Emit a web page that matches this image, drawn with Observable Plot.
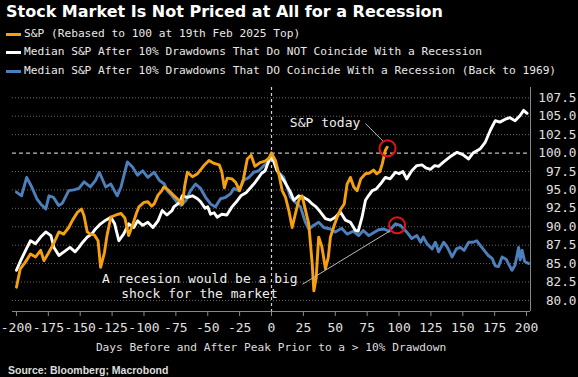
<!DOCTYPE html>
<html>
<head>
<meta charset="utf-8">
<script src="https://cdn.jsdelivr.net/npm/d3@7"></script>
<script src="https://cdn.jsdelivr.net/npm/@observablehq/plot@0.6"></script>
<style>
  html, body { margin: 0; padding: 0; background: #000; }
  #wrap { position: relative; width: 578px; height: 377px; background: #000; overflow: hidden; }
  #title { position: absolute; left: 6px; top: 4px; font: bold 16px "DejaVu Sans"; color: #fff; line-height: 16px; white-space: nowrap; }
  .leg { position: absolute; left: 6px; height: 14px; display: flex; align-items: center; font: 11.2px "DejaVu Sans Mono"; color: #e8e8e8; line-height: 14px; white-space: nowrap; }
  .sw { width: 15px; height: 3px; margin-right: 3px; }
  #xlabel { position: absolute; left: 0; width: 542px; text-align: center; top: 341px; font: 11.2px "DejaVu Sans Mono"; color: #ddd; line-height: 14px; }
  #source { position: absolute; left: 8px; top: 364px; font: bold 10.5px "Liberation Sans"; color: #ddd; line-height: 12px; }
  #chart { position: absolute; left: 0; top: 80px; }
</style>
</head>
<body>
<div id="wrap">
  <div id="title"></div>
  <div id="legend"></div>
  <div id="chart"></div>
  <div id="xlabel"></div>
  <div id="source"></div>
</div>
<script>
// ---- Data ----
const titleText = "Stock Market Is Not Priced at All for a Recession";
const seriesNames = [
  "S&P (Rebased to 100 at 19th Feb 2025 Top)",
  "Median S&P After 10% Drawdowns That Do NOT Coincide With a Recession",
  "Median S&P After 10% Drawdowns That DO Coincide With a Recession (Back to 1969)"
];
const seriesColors = ["#f5a00f", "#ffffff", "#4d7fbd"];
const xAxisTitle = "Days Before and After Peak Prior to a > 10% Drawdown";
const sourceText = "Source: Bloomberg; Macrobond";

const xTickValues = [-200, -175, -150, -125, -100, -75, -50, -25, 0, 25, 50, 75, 100, 125, 150, 175, 200];
const yTickValues = [80, 82.5, 85, 87.5, 90, 92.5, 95, 97.5, 100, 102.5, 105, 107.5];

// S&P (rebased)
const spDays = [-200,-197,-193,-189,-185,-181,-178.5,-175,-170.6,-166.7,-163,-159,-156,-152,-149,-147,-144.5,-142,-139,-136,-134,-131,-129,-126,-122,-118,-115,-112,-109,-106,-104,-100,-97,-94,-92,-89,-86,-84.4,-81,-77,-72.6,-70,-68,-66,-62,-58,-53,-49,-45,-41,-39,-37,-34.7,-31,-28,-25,-22,-19,-16,-13,-9,-5,-2,0,3.1,5.7,8.4,11,13.6,16.2,18.8,21.4,24,26.6,29.2,31.9,33.2,35,37,39.5,42.3,44.5,46.2,49,51.5,54,57,59.3,61.9,64.5,67.2,70,73.7,77,80,82.5,85,86.8,89.3,90.7];
const spValues = [81.8,84.3,85.2,86.3,85.9,86.8,85.4,86.4,87.8,89.3,89.0,89.9,90.9,92.0,92.4,91.5,89.3,89.0,88.9,88.1,84.5,86.5,88.8,91.3,91.6,91.8,91.2,88.8,90.2,91.8,92.7,93.3,93.4,92.8,93.1,94.3,94.9,95.4,95.0,94.3,93.6,93.0,95.6,97.4,96.8,97.2,98.3,99.0,98.6,98.4,97.5,95.3,96.6,96.5,96.0,94.9,96.5,99.2,99.7,98.2,98.7,98.9,99.3,100.0,99.0,97.2,94.9,94.0,92.2,89.9,91.8,93.6,94.2,92.3,90.4,85.0,81.3,83.0,88.6,87.3,84.3,85.8,88.6,90.1,91.3,92.3,93.1,95.8,96.7,95.4,94.9,96.5,97.2,97.3,97.7,97.2,97.5,98.5,100.4,100.8];

// Median, no recession
const noRecDays = [-200,-196.7,-192.8,-189,-185,-181,-177,-173,-170.6,-166.7,-162.8,-158,-154,-151,-148,-144.5,-141,-138,-134,-130,-126,-123,-119.7,-116,-112,-108,-105,-101,-97,-93,-89,-85.7,-82,-78,-76.6,-72,-70,-66,-62,-58,-55.6,-52,-50,-47.8,-45,-42.6,-39,-35,-31,-27,-24,-20,-17,-13.9,-10,-8,-5,-2.5,0,4.4,9.6,14.9,17.5,21.4,25,29,31.9,35,38.4,42.3,46.2,50,54,58,61.9,65.8,68,71,73.7,76,79,82,85.4,89.3,93,97.2,100,103,106,110,114,118,121,124.6,128,131,135,140,145.5,150,154.6,158,163.8,167.7,171.6,175.5,179,183.4,187,191,195,197.7,200.4];
const noRecValues = [84.1,85.4,86.8,88.1,87.7,88.6,89.3,88.8,87.2,86.1,86.6,87.2,86.6,87.2,87.9,88.6,89.0,89.7,90.4,90.9,91.3,90.4,88.1,89.0,90.4,89.9,90.8,90.2,90.6,89.9,90.8,92.2,91.6,92.2,92.7,93.3,94.2,94.0,94.2,93.8,93.4,92.5,92.7,91.7,91.9,91.3,91.7,91.6,92.7,93.5,94.2,94.6,95.2,95.8,96.7,97.2,97.6,98.8,99.7,97.6,96.3,94.7,93.6,94.2,94.0,93.6,93.1,92.7,92.0,91.1,90.9,91.3,92.0,90.9,90.6,89.5,89.4,91.3,93.6,94.2,94.9,95.1,95.8,96.7,96.5,97.4,97.2,97.5,96.5,97.6,98.3,98.4,98.0,97.8,98.3,98.2,98.8,99.5,100.1,99.8,99.2,100.0,100.6,101.5,103.1,104.4,104.2,104.6,104.8,104.4,105.1,105.8,105.4];

// Median, recession
const recDays = [-200,-196,-192,-188,-184,-181,-177,-174.5,-171,-167,-164,-159,-155,-151,-147,-142,-138,-135,-130,-126,-121,-118,-113,-109,-105,-101,-97,-92,-88,-84,-81.7,-78,-74,-71,-67,-63.5,-59.6,-55.6,-51.7,-47.8,-44,-40,-36,-32,-29.5,-25.6,-21.7,-17.8,-13.9,-10,-6,-2,0,4.4,9.6,12.3,14.9,18.8,22.7,26.6,29.2,33.2,37,41,46.2,50,55,59.3,64,68.4,72,76.3,80,84,88,92,97.2,101,106,110,114,117,119,122,126,128.5,131,135,138,141.6,145,148,151,154.6,158,161,164,167.7,170,173,175.5,178,180.8,184,186,188.6,191,193.8,195,196.5,198.5,201.6];
const recValues = [94.7,94.2,96.7,95.4,93.8,93.1,92.4,94.2,94.0,92.9,93.2,94.9,95.0,95.2,96.1,95.4,96.3,97.4,95.4,95.8,94.2,95.4,98.8,98.1,97.0,97.6,96.7,97.4,96.3,95.8,94.9,94.2,93.3,92.9,93.6,94.9,95.8,95.2,94.0,93.1,92.7,93.8,94.0,94.5,95.2,94.9,96.3,96.7,97.4,97.6,98.3,98.8,100.0,97.6,96.7,95.4,94.0,93.3,92.7,90.6,89.7,90.2,90.6,89.9,89.7,89.3,89.8,89.0,89.4,88.8,89.5,88.8,89.2,89.6,89.7,89.4,90.4,90.2,89.3,88.4,88.8,87.9,88.6,87.7,87.0,87.9,86.6,87.9,87.2,85.9,87.0,87.2,86.8,87.9,87.9,88.1,87.4,86.6,86.1,85.7,84.7,84.6,85.9,85.6,84.9,84.1,84.8,87.2,85.5,86.8,85.3,85.0];

// Annotations (data coordinates)
const circleDays = [91, 98.5];
const circleValues = [100.65, 90.2];
const noteTexts = ["S&P today", "A recesion would be a big", "shock for the market"];
const noteDays = [42, -56.2, -56.5];
const noteValues = [104.1, 83.0, 80.95];
const linkFromDays = [73.7, 24.3];
const linkFromValues = [104.0, 82.2];
const linkToDays = [87.6, 93.5];
const linkToValues = [101.6, 89.5];

// ---- Build tables ----
const toRows = (xs, ys) => xs.map((x, i) => ({x, y: ys[i]}));
const sp = toRows(spDays, spValues);
const noRec = toRows(noRecDays, noRecValues);
const rec = toRows(recDays, recValues);
const circles = toRows(circleDays, circleValues);
const notes = noteTexts.map((t, i) => ({text: t, x: noteDays[i], y: noteValues[i]}));
const links = linkFromDays.map((d, i) => ({x1: d, y1: linkFromValues[i], x2: linkToDays[i], y2: linkToValues[i]}));

const xDomain = [-203.1, 203.1];
const yDomain = [78.5, 108.9];

// ---- HTML text ----
document.getElementById("title").textContent = titleText;
const legendTops = [27, 45, 64];
const legend = document.getElementById("legend");
seriesNames.forEach((name, i) => {
  const row = document.createElement("div");
  row.className = "leg";
  row.style.top = legendTops[i] + "px";
  const sw = document.createElement("span");
  sw.className = "sw";
  sw.style.background = seriesColors[i];
  const tx = document.createElement("span");
  tx.textContent = name;
  row.appendChild(sw);
  row.appendChild(tx);
  legend.appendChild(row);
});
document.getElementById("xlabel").textContent = xAxisTitle;
document.getElementById("source").textContent = sourceText;

// ---- Chart ----
const chart = Plot.plot({
  width: 578,
  height: 280,
  marginLeft: 12,
  marginRight: 48,
  marginTop: 7,
  marginBottom: 49,
  style: {background: "transparent", color: "#ddd", fontFamily: "DejaVu Sans Mono", fontSize: "13px"},
  x: {domain: xDomain},
  y: {domain: yDomain},
  marks: [
    Plot.ruleY(yTickValues.filter(v => v !== 100), {stroke: "#6a6a6a", strokeDasharray: "1,2", strokeWidth: 1}),
    Plot.ruleY([100], {stroke: "#bdbdbd", strokeDasharray: "4,3", strokeWidth: 1.2}),
    Plot.ruleX([0], {stroke: "#d0d0d0", strokeDasharray: "3,3", strokeWidth: 1.2}),
    Plot.ruleY([yDomain[0]], {stroke: "#888", strokeWidth: 1}),
    Plot.ruleX([xDomain[1]], {stroke: "#888", strokeWidth: 1}),
    Plot.axisX({ticks: xTickValues, tickSize: 5, tickPadding: 6, tickFormat: d => String(d), stroke: "#888", fill: "#e0e0e0", fontSize: 13, label: null}),
    Plot.axisY({anchor: "right", ticks: yTickValues, tickSize: 0, tickPadding: 46, textAnchor: "end", tickFormat: d3.format(".1f"), fill: "#e0e0e0", fontSize: 12.7, label: null}),
    Plot.line(rec, {x: "x", y: "y", stroke: seriesColors[2], strokeWidth: 2.9, strokeLinejoin: "round"}),
    Plot.line(noRec, {x: "x", y: "y", stroke: seriesColors[1], strokeWidth: 2.9, strokeLinejoin: "round"}),
    Plot.line(sp, {x: "x", y: "y", stroke: seriesColors[0], strokeWidth: 2.9, strokeLinejoin: "round"}),
    Plot.link(links, {x1: "x1", y1: "y1", x2: "x2", y2: "y2", stroke: "#bbbbbb", strokeWidth: 1}),
    Plot.dot(circles, {x: "x", y: "y", r: 8, stroke: "#e8101a", strokeWidth: 2, fill: "none"}),
    Plot.text(notes, {x: "x", y: "y", text: "text", fill: "#eeeeee", fontSize: 13, fontFamily: "DejaVu Sans Mono"})
  ]
});
document.getElementById("chart").appendChild(chart);
</script>
</body>
</html>
